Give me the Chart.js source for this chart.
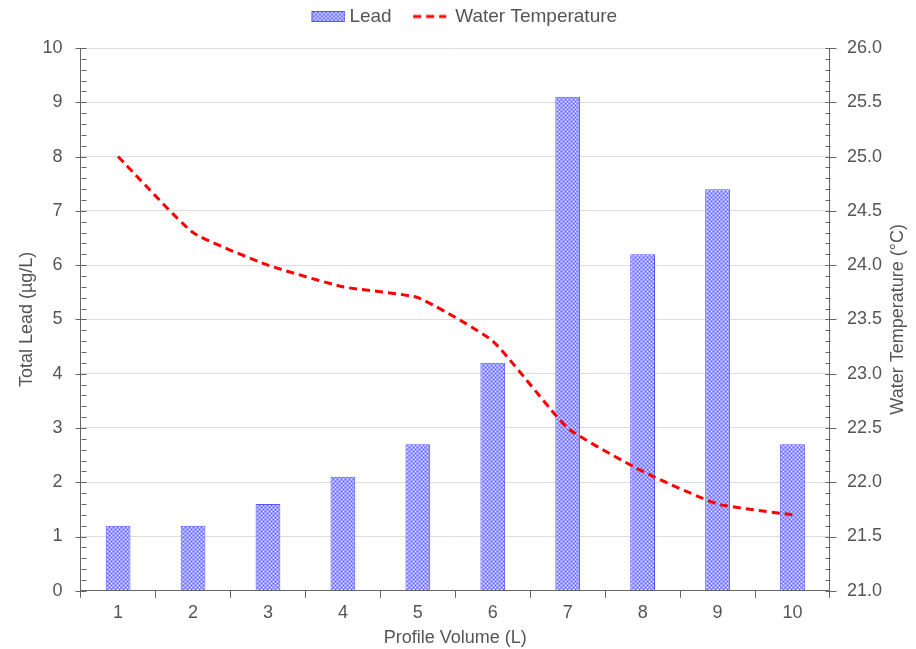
<!DOCTYPE html>
<html>
<head>
<meta charset="utf-8">
<script src="https://cdn.jsdelivr.net/npm/chart.js@4/dist/chart.umd.min.js"></script>
<style>
html,body{margin:0;padding:0;background:#fff;}
#wrap{width:916px;height:649px;}
</style>
</head>
<body>
<div id="wrap"><canvas id="c" width="916" height="649"></canvas></div>
<script>
const categories = ['1','2','3','4','5','6','7','8','9','10'];
const leadValues = [1.2, 1.2, 1.6, 2.1, 2.7, 4.2, 9.1, 6.2, 7.4, 2.7];
const tempValues = [25.0, 24.3, 24.0, 23.8, 23.7, 23.3, 22.5, 22.1, 21.8, 21.7];
const leadTicks = [0, 10, 1];
const tempTicks = [21, 26, 0.5];
const leftTitle = 'Total Lead (\u00b5g/L)';
const rightTitle = 'Water Temperature (\u00b0C)';
const xTitle = 'Profile Volume (L)';

const FONT = '"Liberation Sans", Arial, sans-serif';
const TXT = '#555555';
const AXIS = '#666666';
const BAR_BORDER = '#5555ff';
const LINE_COLOR = '#ff0000';
const CLEAR = 'rgba(0,0,0,0)';

function makePattern(ctx) {
  const p = document.createElement('canvas');
  p.width = 4; p.height = 4;
  const g = p.getContext('2d');
  g.fillStyle = '#9c9cff';
  g.fillRect(0, 0, 4, 4);
  g.fillStyle = '#e8e8ff';
  g.fillRect(1, 1, 1, 1);
  g.fillRect(3, 3, 1, 1);
  g.fillStyle = '#6464ff';
  g.fillRect(1, 3, 1, 1);
  g.fillRect(3, 1, 1, 1);
  return ctx.createPattern(p, 'repeat');
}
const mainCtx = document.getElementById('c').getContext('2d');
const pattern = makePattern(mainCtx);

function leadSymbol() {
  const c = document.createElement('canvas');
  c.width = 39; c.height = 11;
  const g = c.getContext('2d');
  g.fillStyle = makePattern(g);
  g.fillRect(5, 0, 34, 11);
  g.strokeStyle = BAR_BORDER;
  g.lineWidth = 1;
  g.strokeRect(5.5, 0.5, 33, 10);
  return c;
}
function tempSymbol() {
  const c = document.createElement('canvas');
  c.width = 39; c.height = 6;
  const g = c.getContext('2d');
  g.strokeStyle = LINE_COLOR;
  g.lineWidth = 3;
  g.setLineDash([8, 5]);
  g.beginPath();
  g.moveTo(1, 3); g.lineTo(34, 3);
  g.stroke();
  return c;
}
const leadSym = leadSymbol();
const tempSym = tempSymbol();

const helperPlugin = {
  id: 'helper',
  beforeInit(chart) {
    const lg = chart.legend;
    if (lg) {
      const orig = lg.fit;
      lg.fit = function() { orig.call(this); this.height -= 7; };
    }
  },
  afterLayout(chart) {
    const lg = chart.legend;
    if (lg) { lg.left += 15.5; lg.right += 15.5; lg.top -= 19; lg.bottom -= 19; }
  },
  afterDraw(chart) {
    const ctx = chart.ctx;
    const yl = chart.scales.y, yr = chart.scales.y1;
    ctx.save();
    ctx.strokeStyle = AXIS;
    ctx.lineWidth = 1;
    ctx.beginPath();
    const lx = Math.round(yl.right) + 0.5;
    let i = 0;
    for (let v = leadTicks[0]; v <= leadTicks[1] + 1e-9; v += leadTicks[2] / 5, i++) {
      const py = Math.round(yl.getPixelForValue(v)) + 0.5;
      ctx.moveTo(i % 5 === 0 ? lx - 6 : lx, py); ctx.lineTo(lx + 5, py);
    }
    const rx = Math.round(yr.left) + 0.5;
    i = 0;
    for (let v = tempTicks[0]; v <= tempTicks[1] + 1e-9; v += tempTicks[2] / 5, i++) {
      const py = Math.round(yr.getPixelForValue(v)) + 0.5;
      ctx.moveTo(i % 5 === 0 ? rx + 6 : rx, py); ctx.lineTo(rx - 5, py);
    }
    ctx.stroke();
    ctx.fillStyle = TXT;
    ctx.font = '18px ' + FONT;
    ctx.textAlign = 'center';
    ctx.textBaseline = 'middle';
    ctx.translate(chart.width - 18, (chart.chartArea.top + chart.chartArea.bottom) / 2);
    ctx.rotate(-Math.PI / 2);
    ctx.fillText(rightTitle, 0, 0);
    ctx.restore();
  }
};

new Chart(mainCtx, {
  type: 'bar',
  data: {
    labels: categories,
    datasets: [
      {
        type: 'line',
        label: 'Water Temperature',
        data: tempValues,
        yAxisID: 'y1',
        borderColor: LINE_COLOR,
        backgroundColor: LINE_COLOR,
        borderWidth: 3,
        borderDash: [8, 5],
        pointRadius: 0,
        tension: 0.15,
        fill: false,
        order: 0
      },
      {
        type: 'bar',
        label: 'Lead',
        data: leadValues,
        yAxisID: 'y',
        backgroundColor: pattern,
        borderColor: BAR_BORDER,
        borderWidth: 1,
        categoryPercentage: 1,
        barPercentage: 0.33,
        order: 1
      }
    ]
  },
  options: {
    responsive: false,
    animation: false,
    devicePixelRatio: 1,
    layout: { padding: { left: 16, right: 34, top: 0, bottom: 0 } },
    plugins: {
      legend: {
        position: 'top',
        labels: {
          usePointStyle: true,
          pointStyleWidth: 28,
          color: TXT,
          font: { size: 19, family: FONT },
          padding: 26,
          generateLabels(chart) {
            return [
              { text: 'Lead', pointStyle: leadSym, fillStyle: pattern, strokeStyle: BAR_BORDER, lineWidth: 0, fontColor: TXT, datasetIndex: 1, hidden: false },
              { text: 'Water Temperature', pointStyle: tempSym, fillStyle: LINE_COLOR, strokeStyle: LINE_COLOR, lineWidth: 0, fontColor: TXT, datasetIndex: 0, hidden: false }
            ];
          }
        }
      },
      tooltip: { enabled: false }
    },
    scales: {
      x: {
        offset: true,
        grid: {
          offset: true,
          drawOnChartArea: false,
          drawTicks: true,
          tickLength: 7,
          color: AXIS
        },
        border: { color: AXIS },
        ticks: { color: TXT, font: { size: 18, family: FONT }, padding: 4 },
        title: { display: true, text: xTitle, color: TXT, font: { size: 18, family: FONT }, padding: { top: 0, bottom: 0 } }
      },
      y: {
        position: 'left',
        min: leadTicks[0], max: leadTicks[1],
        ticks: { stepSize: leadTicks[2], color: TXT, font: { size: 18, family: FONT }, padding: 0 },
        grid: { color: function(c){ return c.tick && c.tick.value === 0 ? CLEAR : '#dddddd'; }, tickColor: CLEAR, tickLength: 18 },
        border: { color: AXIS },
        title: { display: true, text: leftTitle, color: TXT, font: { size: 18, family: FONT }, padding: { top: 0, bottom: 5 } }
      },
      y1: {
        position: 'right',
        min: tempTicks[0], max: tempTicks[1],
        ticks: { stepSize: tempTicks[2], color: TXT, font: { size: 18, family: FONT }, padding: 0, callback: v => Number(v).toFixed(1) },
        grid: { drawOnChartArea: false, tickColor: CLEAR, tickLength: 17 },
        border: { color: AXIS }
      }
    }
  },
  plugins: [helperPlugin]
});
</script>
</body>
</html>
